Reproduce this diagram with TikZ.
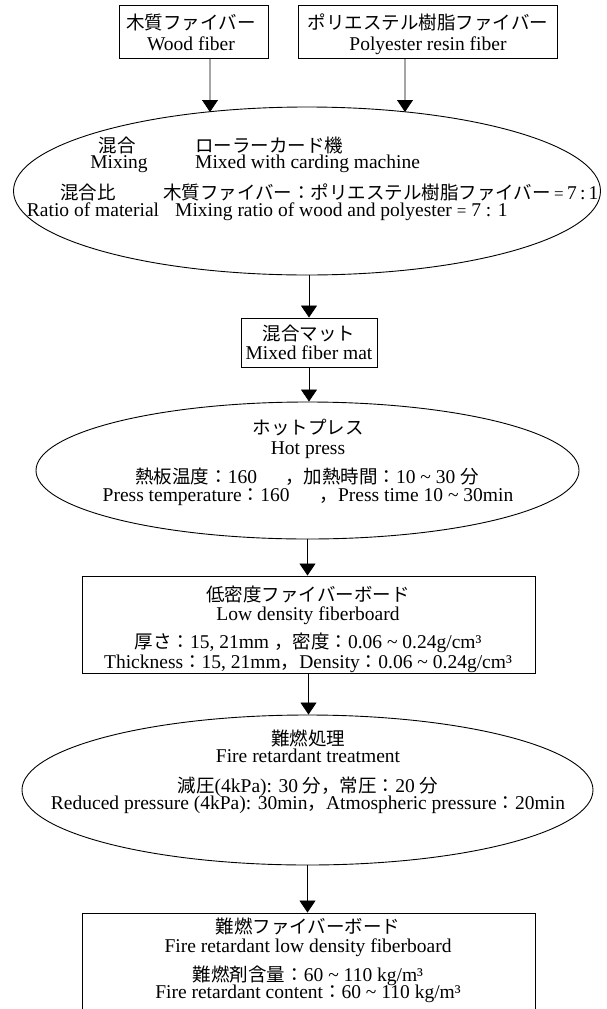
\documentclass[tikz,border=0pt]{standalone}
\usepackage{fontspec}
\setmainfont{Liberation Serif}
\newfontfamily\jpfont{Noto Sans CJK JP}
\usetikzlibrary{arrows.meta,shapes.geometric}
\newcommand\J[1]{{\jpfont\fontsize{18.5bp}{20bp}\selectfont #1}}
\newcommand\tld{\textasciitilde{}}
\newcommand\smeq{{\fontsize{17bp}{18bp}\selectfont =}}
\begin{document}
\begin{tikzpicture}[x=1bp,y=-1bp,
  every node/.style={font=\fontsize{19.5bp}{20bp}\selectfont},
  boxshape/.style={draw, line width=0.9bp, inner sep=0pt, rectangle},
  ellshape/.style={draw, line width=0.9bp, inner sep=0pt, ellipse},
  txt/.style={inner sep=0pt, anchor=base},
  txtl/.style={inner sep=0pt, anchor=base west},
  arr/.style={draw, line width=0.8bp, -{Triangle[width=16bp,length=12bp]}}]
\useasboundingbox (0,0) rectangle (607,1009);
\clip (0,0) rectangle (607,1009);

% shapes
\node[boxshape, minimum width=149bp, minimum height=53bp] (wood) at (193.5,31.5) {};
\node[boxshape, minimum width=259bp, minimum height=53bp] (poly) at (427.5,31.5) {};
\node[ellshape, minimum width=587bp, minimum height=168bp] (e1) at (307,191) {};
\node[boxshape, minimum width=136bp, minimum height=49bp] (mat) at (309,342.5) {};
\node[ellshape, minimum width=543bp, minimum height=137bp] (e2) at (307.5,470.5) {};
\node[boxshape, minimum width=453bp, minimum height=97bp] (board) at (308.5,624.5) {};
\node[ellshape, minimum width=571bp, minimum height=150bp] (e3) at (307.5,790) {};
\node[boxshape, minimum width=453bp, minimum height=117bp] (frb) at (308.5,971.5) {};

% texts
\node[txt] (t1a) at (191,29) {\J{木質ファイバー}};
\node[txt] (t1b) at (191,50) {Wood fiber};
\node[txt] (t2a) at (428,29) {\J{ポリエステル樹脂ファイバー}};
\node[txt] (t2b) at (428,50) {Polyester resin fiber};

\node[txt] (m1a) at (117,152) {\J{混合}};
\node[txt] (m1b) at (119,168) {Mixing};
\node[txtl] (m2a) at (195,152) {\J{ローラーカード機}};
\node[txtl] (m2b) at (195,168) {Mixed with carding machine};
\node[txt] (m3a) at (88,199) {\J{混合比}};
\node[txt] (m3b) at (93,216) {Ratio of material};
\node[txtl] (m4a) at (163,199) {\J{木質ファイバー：ポリエステル樹脂ファイバー}\,\smeq\,7\,:\,1};
\node[txtl] (m4b) at (175,216) {Mixing ratio of wood and polyester \smeq{} 7 : 1};

\node[txt] (k1) at (309,340) {\J{混合マット}};
\node[txt] (k2) at (309,359) {Mixed fiber mat};

\node[txt] (h1) at (308,434) {\J{ホットプレス}};
\node[txt] (h2) at (308,454) {Hot press};
\node[txt] (h3) at (307,483) {\J{熱板温度：}160\hspace{28bp}\J{，加熱時間：}10 \tld{} 30 \J{分}};
\node[txt] (h4) at (308,501) {Press temperature\J{：}160\hspace{30bp}\J{，}Press time 10 \tld{} 30min};

\node[txt] (b1) at (308,601) {\J{低密度ファイバーボード}};
\node[txt] (b2) at (308,620) {Low density fiberboard};
\node[txt] (b3) at (308,648) {\J{厚さ：}15, 21mm \J{，密度：}0.06 \tld{} 0.24g/cm³};
\node[txt] (b4) at (308,668) {Thickness\J{：}15, 21mm\J{，}Density\J{：}0.06 \tld{} 0.24g/cm³};

\node[txt] (f1) at (308,745) {\J{難燃処理}};
\node[txt] (f2) at (308,762) {Fire retardant treatment};
\node[txt] (f3) at (308,792) {\J{減圧}(4kPa): 30 \J{分，常圧：}20 \J{分}};
\node[txt] (f4) at (308,809) {Reduced pressure (4kPa): 30min\J{，}Atmospheric pressure\J{：}20min};

\node[txt] (g1) at (308,933) {\J{難燃ファイバーボード}};
\node[txt] (g2) at (308,952) {Fire retardant low density fiberboard};
\node[txt] (g3) at (308,981) {\J{難燃剤含量：}60 \tld{} 110 kg/m³};
\node[txt] (g4) at (308,998) {Fire retardant content\J{：}60 \tld{} 110 kg/m³};

% connectors
\coordinate (a1) at (210,112);
\coordinate (a2) at (405,112);
\draw[arr] ([xshift=16.5bp]wood.south) -- (a1);
\draw[arr] ([xshift=-22.5bp]poly.south) -- (a2);
\draw[arr] (e1.south -| mat.north) -- (mat.north);
\draw[arr] (mat.south) -- (mat.south |- e2.north);
\draw[arr] (e2.south) -- (e2.south |- board.north);
\draw[arr] (board.south) -- (board.south |- e3.north);
\draw[arr] (e3.south) -- (e3.south |- frb.north);
\end{tikzpicture}
\end{document}
